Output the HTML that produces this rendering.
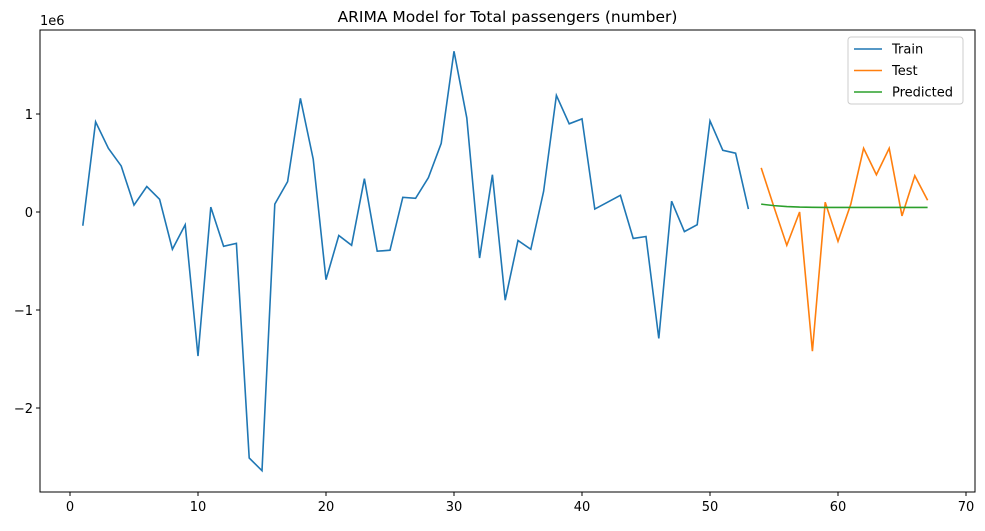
<!DOCTYPE html>
<html><head><meta charset="utf-8"><style>
body{margin:0;background:#fff;font-family:"Liberation Sans","DejaVu Sans",sans-serif}
svg text{font-family:"DejaVu Sans","Liberation Sans",sans-serif;font-size:13px;fill:#000}
</style></head><body>
<svg id="chart" width="985" height="526" xmlns="http://www.w3.org/2000/svg"></svg>
<script>
const trainX=[...Array(53)].map((_,i)=>i+1);
const trainY=[-0.14,0.92,0.65,0.47,0.07,0.26,0.13,-0.38,-0.13,-1.47,0.05,-0.35,-0.32,-2.51,-2.64,0.08,0.31,1.16,0.54,-0.69,-0.24,-0.34,0.34,-0.40,-0.39,0.15,0.14,0.35,0.70,1.64,0.96,-0.47,0.38,-0.90,-0.29,-0.38,0.21,1.19,0.90,0.95,0.03,0.10,0.17,-0.27,-0.25,-1.29,0.11,-0.20,-0.13,0.93,0.63,0.60,0.03];
const testX=[54,55,56,57,58,59,60,61,62,63,64,65,66,67];
const testY=[0.45,0.05,-0.34,0.00,-1.42,0.10,-0.30,0.08,0.65,0.38,0.65,-0.04,0.37,0.12];
const predY=[0.08,0.065,0.055,0.05,0.048,0.047,0.047,0.047,0.047,0.047,0.047,0.047,0.047,0.047];
const xTicks=[0,10,20,30,40,50,60,70];
const yTicks=[1,0,-1,-2];
const yTickLabels=["1","0","\u22121","\u22122"];
const L=40,R=975,T=30,B=492;
const sx=v=>70+v*12.8;
const sy=v=>212-v*98;
const svg=document.getElementById('chart');
const NS='http://www.w3.org/2000/svg';
function mk(t,a,p){const e=document.createElementNS(NS,t);for(const k in a)e.setAttribute(k,a[k]);(p||svg).appendChild(e);return e;}
let e;
e=mk('text',{x:(L+R)/2,y:22,'text-anchor':'middle',style:'font-size:15.5px'});e.textContent='ARIMA Model for Total passengers (number)';


e=mk('text',{x:L,y:25});e.textContent='1e6';


xTicks.forEach(v=>{mk('line',{x1:sx(v),x2:sx(v),y1:B,y2:B+4,stroke:'#000'});
 e=mk('text',{x:sx(v),y:B+19,'text-anchor':'middle'});e.textContent=v;
 
 });
yTicks.forEach((v,i)=>{mk('line',{x1:L-4,x2:L,y1:sy(v),y2:sy(v),stroke:'#000'});
 e=mk('text',{x:L-7,y:sy(v)+5,'text-anchor':'end'});e.textContent=yTickLabels[i];
 
 });
function series(xs,ys,c,n){e=mk('polyline',{points:xs.map((x,i)=>sx(x)+','+sy(ys[i])).join(' '),fill:'none',stroke:c,'stroke-width':1.6});
 
 }
series(trainX,trainY,'#1f77b4','train-line');
series(testX,testY,'#ff7f0e','test-line');
series(testX,predY,'#2ca02c','predicted-line');
e=mk('rect',{x:L,y:T,width:R-L,height:B-T,fill:'none',stroke:'#000','stroke-width':1});


const lg=mk('g',{});


mk('rect',{x:848,y:37,width:115,height:67,rx:3,fill:'#fff',stroke:'#ccc'},lg);
[['Train','#1f77b4'],['Test','#ff7f0e'],['Predicted','#2ca02c']].forEach((d,i)=>{
 const y=49+i*21.5;
 mk('line',{x1:854,x2:882,y1:y,y2:y,stroke:d[1],'stroke-width':1.6},lg);
 const t=mk('text',{x:892,y:y+4.5},lg);t.textContent=d[0];
 
 
});
</script>
</body></html>
